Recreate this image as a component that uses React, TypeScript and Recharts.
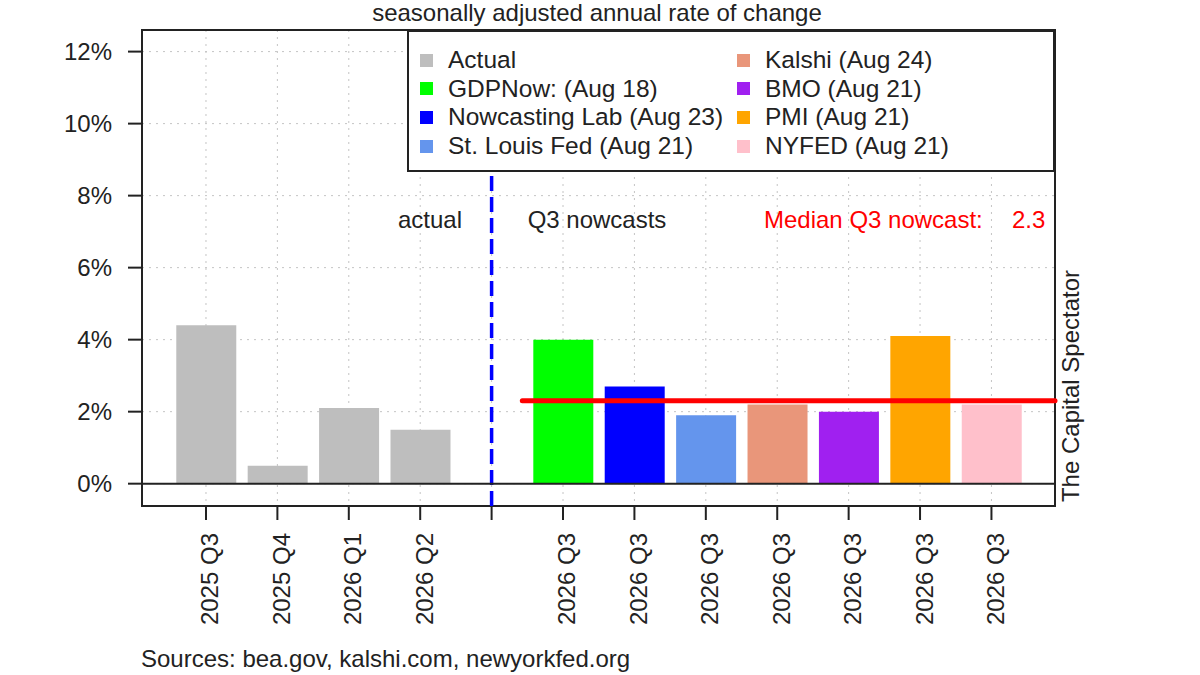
import {
  Bar,
  BarChart,
  CartesianGrid,
  Cell,
  Legend,
  ReferenceArea,
  ReferenceLine,
  XAxis,
  YAxis,
} from "recharts";

// values
const quarters = [
  "2025 Q3",
  "2025 Q4",
  "2026 Q1",
  "2026 Q2",
  "",
  "2026 Q3",
  "2026 Q3",
  "2026 Q3",
  "2026 Q3",
  "2026 Q3",
  "2026 Q3",
  "2026 Q3",
];
const growth = [4.4, 0.5, 2.1, 1.5, null, 4.0, 2.7, 1.9, 2.2, 2.0, 4.1, 2.2];
const barColors = [
  "#bebebe",
  "#bebebe",
  "#bebebe",
  "#bebebe",
  "none",
  "#00ff00",
  "#0000ff",
  "#6495ed",
  "#e9967a",
  "#a020f0",
  "#ffa500",
  "#ffc0cb",
];

const legendLabels = [
  "Actual",
  "GDPNow: (Aug 18)",
  "Nowcasting Lab (Aug 23)",
  "St. Louis Fed (Aug 21)",
  "Kalshi (Aug 24)",
  "BMO (Aug 21)",
  "PMI (Aug 21)",
  "NYFED (Aug 21)",
];
const legendColors = [
  "#bebebe",
  "#00ff00",
  "#0000ff",
  "#6495ed",
  "#e9967a",
  "#a020f0",
  "#ffa500",
  "#ffc0cb",
];

const yTicks = [0, 2, 4, 6, 8, 10, 12];
const xTicks = quarters.map((_, i) => i);
const medianNowcast = 2.3;
const splitAt = 4;

const xDomain = [-0.896, 11.89];
const yDomain = [-0.62, 12.6];

const FONT = "'Liberation Sans', Arial, sans-serif";
const INK = "#222";

const rows = quarters.map((q, i) => ({ idx: i, quarter: q, value: growth[i] }));

const QuarterTick = ({ x, y, payload }: any) => (
  <text
    x={x}
    y={y}
    transform={`rotate(-90, ${x}, ${y})`}
    textAnchor="end"
    dy="0.52em"
    fontSize={24}
    fill={INK}
    fontFamily={FONT}
  >
    {quarters[payload.value]}
  </text>
);

const LegendBox = () => (
  <div
    style={{
      position: "relative",
      width: 648,
      height: 142,
      boxSizing: "border-box",
      border: "2px solid #222",
      background: "#fff",
      fontFamily: FONT,
      fontSize: 24.5,
      color: INK,
    }}
  >
    {legendLabels.map((label, i) => {
      const col = Math.floor(i / 4);
      const row = i % 4;
      return (
        <div
          key={label}
          style={{
            position: "absolute",
            left: col === 0 ? 11 : 328,
            top: 14 + row * 28.7,
            height: 28,
            display: "flex",
            alignItems: "center",
            whiteSpace: "nowrap",
          }}
        >
          <span
            style={{
              width: 13,
              height: 13,
              background: legendColors[i],
              display: "inline-block",
              marginRight: 15,
            }}
          />
          {label}
        </div>
      );
    })}
  </div>
);

export default function App() {
  return (
    <div
      style={{
        position: "absolute",
        left: 0,
        top: 0,
        width: 1200,
        height: 675,
        overflow: "hidden",
        background: "#fff",
      }}
    >
      <BarChart
        width={1200}
        height={675}
        data={rows}
        margin={{ top: 30, right: 145, left: 82, bottom: 49 }}
        style={{ fontFamily: FONT }}
      >
        <CartesianGrid stroke="#c4c4c4" strokeDasharray="2 5" />
        <XAxis
          dataKey="idx"
          type="number"
          domain={xDomain}
          ticks={xTicks}
          interval={0}
          height={120}
          axisLine={false}
          tickSize={14}
          tickMargin={13}
          tickLine={{ stroke: INK, strokeWidth: 2 }}
          tick={<QuarterTick />}
        />
        <YAxis
          type="number"
          domain={yDomain}
          ticks={yTicks}
          width={60}
          axisLine={false}
          tickSize={14}
          tickMargin={16}
          tickLine={{ stroke: INK, strokeWidth: 2 }}
          tick={{ fontSize: 24, fill: INK }}
          tickFormatter={(v: number) => `${v}%`}
        />
        <ReferenceArea
          x1={xDomain[0]}
          x2={xDomain[1]}
          y1={yDomain[0]}
          y2={yDomain[1]}
          fill="none"
          fillOpacity={0}
          stroke={INK}
          strokeWidth={2}
          ifOverflow="visible"
        />
        <ReferenceLine
          x={splitAt}
          stroke="#0000ff"
          strokeWidth={3.5}
          strokeDasharray="15 6"
        />
        <Bar dataKey="value" barSize={60} isAnimationActive={false}>
          {rows.map((r, i) => (
            <Cell key={i} fill={barColors[i]} />
          ))}
        </Bar>
        <ReferenceLine y={0} stroke={INK} strokeWidth={2} />
        <ReferenceLine
          segment={[
            { x: 4.43, y: medianNowcast },
            { x: xDomain[1], y: medianNowcast },
          ]}
          stroke="#ff0000"
          strokeWidth={5}
          strokeLinecap="round"
        />
        <Legend
          content={() => <LegendBox />}
          layout="horizontal"
          verticalAlign="middle"
          align="center"
          wrapperStyle={{ left: 407, top: 30, width: 648, height: 142 }}
        />
      </BarChart>
      <svg
        width={1200}
        height={675}
        style={{ position: "absolute", left: 0, top: 0, pointerEvents: "none" }}
        fontFamily={FONT}
        fontSize={24}
      >
        <text x={597} y={21} textAnchor="middle" fill={INK}>
          seasonally adjusted annual rate of change
        </text>
        <text x={430} y={228} textAnchor="middle" fill={INK}>
          actual
        </text>
        <text x={597} y={228} textAnchor="middle" fill={INK}>
          Q3 nowcasts
        </text>
        <text x={764} y={228} fill="#ff0000">
          Median Q3 nowcast:
        </text>
        <text x={1012} y={228} fill="#ff0000">
          {medianNowcast}
        </text>
        <text
          transform="translate(1079, 386) rotate(-90)"
          textAnchor="middle"
          fill={INK}
        >
          The Capital Spectator
        </text>
        <text x={141} y={667} fill={INK}>
          Sources: bea.gov, kalshi.com, newyorkfed.org
        </text>
      </svg>
    </div>
  );
}
